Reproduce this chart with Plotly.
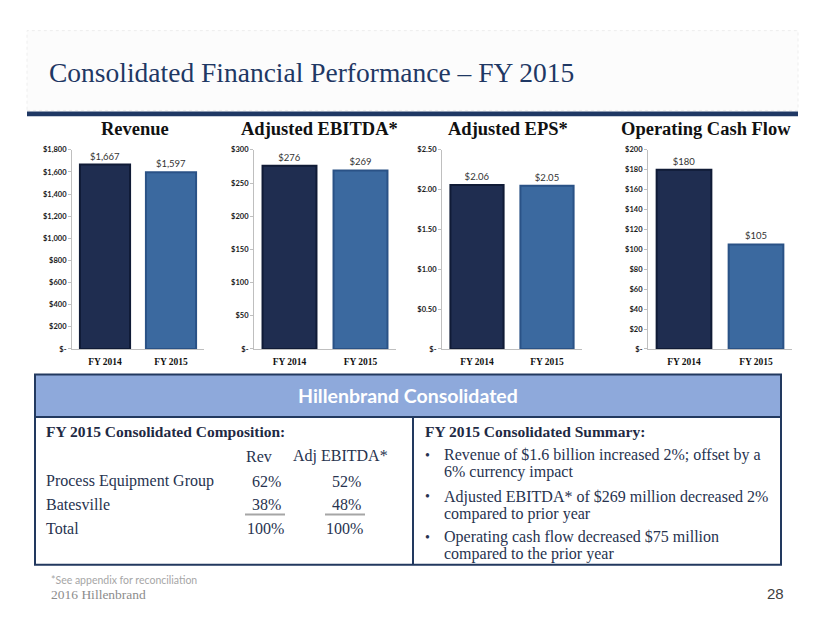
import plotly.graph_objects as go

W, H = 830, 623

# ---------------- data ----------------
years = ["FY 2014", "FY 2015"]
revenue = [1667, 1597]
adj_ebitda = [276, 269]
adj_eps = [2.06, 2.05]
op_cash_flow = [180, 105]

rev_ticks = [0, 200, 400, 600, 800, 1000, 1200, 1400, 1600, 1800]
rev_ticktext = ["$-", "$200", "$400", "$600", "$800", "$1,000", "$1,200", "$1,400", "$1,600", "$1,800"]
ebitda_ticks = [0, 50, 100, 150, 200, 250, 300]
ebitda_ticktext = ["$-", "$50", "$100", "$150", "$200", "$250", "$300"]
eps_ticks = [0, 0.5, 1.0, 1.5, 2.0, 2.5]
eps_ticktext = ["$-", "$0.50", "$1.00", "$1.50", "$2.00", "$2.50"]
ocf_ticks = [0, 20, 40, 60, 80, 100, 120, 140, 160, 180, 200]
ocf_ticktext = ["$-", "$20", "$40", "$60", "$80", "$100", "$120", "$140", "$160", "$180", "$200"]

chart_titles = ["Revenue", "Adjusted EBITDA*", "Adjusted EPS*", "Operating Cash Flow"]

segments = ["Process Equipment Group", "Batesville"]
rev_share = ["62%", "38%"]
ebitda_share = ["52%", "48%"]
total_share = ["100%", "100%"]

summary_lines = [
    ["Revenue of $1.6 billion increased 2%; offset by a", "6% currency impact"],
    ["Adjusted EBITDA* of $269 million decreased 2%", "compared to prior year"],
    ["Operating cash flow decreased $75 million", "compared to the prior year"],
]

# ---------------- helpers ----------------
def px(x):
    return x / W

def py(y):
    return 1 - y / H

NAVY = "#1F2D50"
BLUE = "#3B699F"
NAVY_LINE = "#101B36"
BLUE_LINE = "#2A5286"
AXIS = "#BFBFBF"
TXT = "#27334F"
SERIF = "Liberation Serif, Times New Roman, serif"
SANS = "Lato, Calibri, Arial, sans-serif"

fig = go.Figure()

charts = [
    (revenue, rev_ticks, rev_ticktext, lambda v: "${:,}".format(v), (72, 204), 1800),
    (adj_ebitda, ebitda_ticks, ebitda_ticktext, lambda v: "${}".format(v), (254, 396), 300),
    (adj_eps, eps_ticks, eps_ticktext, lambda v: "${:.2f}".format(v), (442, 582), 2.5),
    (op_cash_flow, ocf_ticks, ocf_ticktext, lambda v: "${}".format(v), (648, 792), 200),
]

plot_top, plot_bottom = 148, 350

for i, (vals, tv, tt, fmt, (x0, x1), ymax) in enumerate(charts):
    n = "" if i == 0 else str(i + 1)
    fig.add_trace(go.Bar(
        x=years, y=vals,
        xaxis="x" + n, yaxis="y" + n,
        marker=dict(color=[NAVY, BLUE], line=dict(color=[NAVY_LINE, BLUE_LINE], width=2)),
        text=[fmt(v) for v in vals], textposition="outside", cliponaxis=False,
        textfont=dict(family=SANS, size=9.5, color="#333333"),
        showlegend=False, hoverinfo="skip",
    ))
    fig.update_layout(**{
        "xaxis" + n: dict(
            domain=[px(x0), px(x1)], anchor="y" + n,
            showline=True, linecolor=AXIS, linewidth=1,
            ticks="", showgrid=False, fixedrange=True, ticklabelstandoff=4,
            tickfont=dict(family=SERIF, size=9.5, color="#111111", weight="bold"),
        ),
        "yaxis" + n: dict(
            domain=[py(plot_bottom), py(plot_top)], anchor="x" + n,
            range=[0, ymax], tickvals=tv, ticktext=tt,
            showline=True, linecolor=AXIS, linewidth=1,
            ticks="outside", ticklen=3, tickcolor=AXIS,
            showgrid=False, zeroline=False, fixedrange=True,
            tickfont=dict(family=SANS, size=7.5, color="#1A1A1A", weight="bold"),
        ),
    })

fig.update_layout(bargap=0.24)

shapes = []
annotations = []

# title band
shapes.append(dict(type="rect", xref="paper", yref="paper",
                   x0=px(27), x1=px(798), y0=py(108), y1=py(27),
                   fillcolor="#FCFCFC", line=dict(color="#EEEEEE", width=1, dash="dot"), layer="below"))
shapes.append(dict(type="rect", xref="paper", yref="paper",
                   x0=px(27), x1=px(798), y0=py(114), y1=py(109),
                   fillcolor="#1F3864", line=dict(width=0)))

annotations.append(dict(text="Consolidated Financial Performance – FY 2015",
                        x=px(47), y=py(70), xref="paper", yref="paper",
                        xanchor="left", yanchor="middle", showarrow=False,
                        font=dict(family=SERIF, size=27.5, color="#1F3864")))

# chart titles
title_centers = [135, 319, 508, 706]
for t, cx in zip(chart_titles, title_centers):
    annotations.append(dict(text="<b>%s</b>" % t, x=px(cx), y=py(127), xref="paper", yref="paper",
                            xanchor="center", yanchor="middle", showarrow=False,
                            font=dict(family=SERIF, size=18.5, color="#111111")))

# table
BORDER = "#22395F"
shapes.append(dict(type="rect", xref="paper", yref="paper",
                   x0=px(35), x1=px(781), y0=py(419), y1=py(376),
                   fillcolor="#8EA9DB", line=dict(color=BORDER, width=2)))
shapes.append(dict(type="rect", xref="paper", yref="paper",
                   x0=px(35), x1=px(781), y0=py(569), y1=py(419),
                   fillcolor="white", line=dict(color=BORDER, width=2)))
shapes.append(dict(type="line", xref="paper", yref="paper",
                   x0=px(413), x1=px(413), y0=py(569), y1=py(419),
                   line=dict(color=BORDER, width=2)))

annotations.append(dict(text="<b>Hillenbrand Consolidated</b>", x=px(408), y=py(397),
                        xref="paper", yref="paper", xanchor="center", yanchor="middle",
                        showarrow=False, font=dict(family=SANS, size=19.5, color="white")))

# left composition
annotations.append(dict(text="<b>FY 2015 Consolidated Composition:</b>", x=px(44), y=py(434),
                        xref="paper", yref="paper", xanchor="left", yanchor="middle",
                        showarrow=False, font=dict(family=SERIF, size=15.5, color="#1F2A44")))
body_font = dict(family=SERIF, size=16, color=TXT)
annotations.append(dict(text="Rev", x=px(259), y=py(459), xref="paper", yref="paper",
                        xanchor="center", yanchor="middle", showarrow=False, font=body_font))
annotations.append(dict(text="Adj EBITDA*", x=px(340), y=py(459), xref="paper", yref="paper",
                        xanchor="center", yanchor="middle", showarrow=False, font=body_font))
row_y = [484, 508]
for seg, r, e, yy in zip(segments, rev_share, ebitda_share, row_y):
    annotations.append(dict(text=seg, x=px(44), y=py(yy), xref="paper", yref="paper",
                            xanchor="left", yanchor="middle", showarrow=False, font=body_font))
    annotations.append(dict(text=r, x=px(266), y=py(yy), xref="paper", yref="paper",
                            xanchor="center", yanchor="middle", showarrow=False, font=body_font))
    annotations.append(dict(text=e, x=px(346), y=py(yy), xref="paper", yref="paper",
                            xanchor="center", yanchor="middle", showarrow=False, font=body_font))
annotations.append(dict(text="Total", x=px(44), y=py(532), xref="paper", yref="paper",
                        xanchor="left", yanchor="middle", showarrow=False, font=body_font))
annotations.append(dict(text=total_share[0], x=px(265), y=py(532), xref="paper", yref="paper",
                        xanchor="center", yanchor="middle", showarrow=False, font=body_font))
annotations.append(dict(text=total_share[1], x=px(344), y=py(532), xref="paper", yref="paper",
                        xanchor="center", yanchor="middle", showarrow=False, font=body_font))
for a, b in [(245, 285), (325, 365)]:
    shapes.append(dict(type="line", xref="paper", yref="paper",
                       x0=px(a), x1=px(b), y0=py(518), y1=py(518),
                       line=dict(color="#A6A6A6", width=2)))

# right summary
annotations.append(dict(text="<b>FY 2015 Consolidated Summary:</b>", x=px(423), y=py(434),
                        xref="paper", yref="paper", xanchor="left", yanchor="middle",
                        showarrow=False, font=dict(family=SERIF, size=15.5, color="#1F2A44")))
bullet_y = [(458, 475), (500, 517), (541, 558)]
for lines, ys in zip(summary_lines, bullet_y):
    annotations.append(dict(text="•", x=px(423), y=py(ys[0]), xref="paper", yref="paper",
                            xanchor="left", yanchor="middle", showarrow=False,
                            font=dict(family=SERIF, size=14, color=TXT)))
    for line, yy in zip(lines, ys):
        annotations.append(dict(text=line, x=px(442), y=py(yy), xref="paper", yref="paper",
                                xanchor="left", yanchor="middle", showarrow=False, font=body_font))

# footer
annotations.append(dict(text="*See appendix for reconciliation", x=px(49), y=py(584),
                        xref="paper", yref="paper", xanchor="left", yanchor="middle",
                        showarrow=False, font=dict(family=SANS, size=10.5, color="#A6A6A6")))
annotations.append(dict(text="2016 Hillenbrand", x=px(49), y=py(599),
                        xref="paper", yref="paper", xanchor="left", yanchor="middle",
                        showarrow=False, font=dict(family=SERIF, size=13.5, color="#8C8C8C")))
annotations.append(dict(text="28", x=px(786), y=py(598),
                        xref="paper", yref="paper", xanchor="right", yanchor="middle",
                        showarrow=False, font=dict(family="Liberation Sans Narrow, Liberation Sans, sans-serif",
                                                   size=15, color="#404040")))

fig.update_layout(
    width=W, height=H, autosize=False,
    margin=dict(l=0, r=0, t=0, b=0),
    paper_bgcolor="white", plot_bgcolor="white",
    shapes=shapes, annotations=annotations,
)

fig.write_html("out.html", config={"displayModeBar": False},
               post_script="document.body.style.margin='0';document.body.style.overflow='hidden';")
